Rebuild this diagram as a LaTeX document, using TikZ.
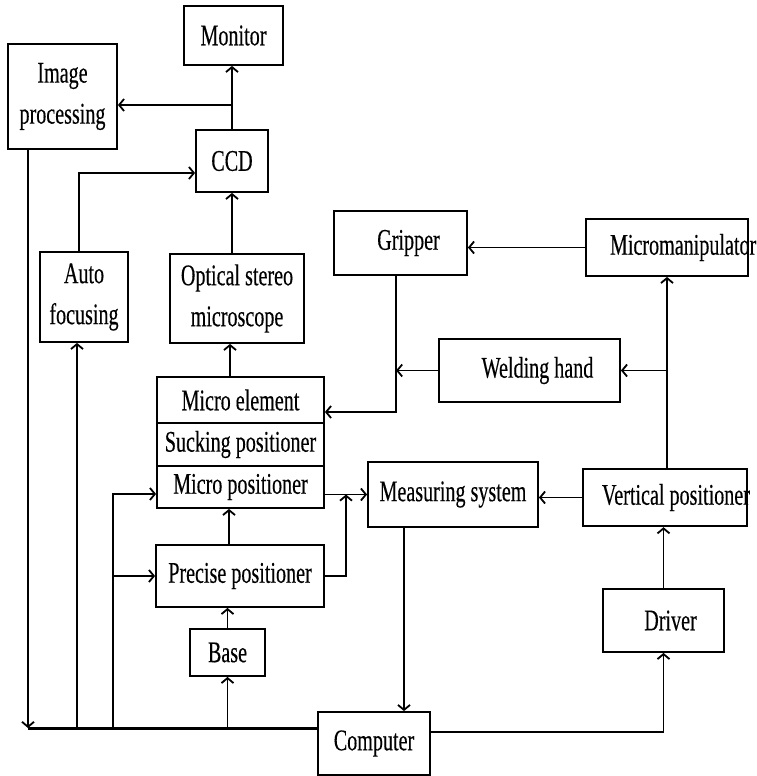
\documentclass[tikz,border=0pt]{standalone}
\usepackage{fontspec}
\setmainfont[FakeStretch=0.67, FakeBold=0.3]{Liberation Serif}
\usetikzlibrary{arrows.meta}

\begin{document}
\begin{tikzpicture}[x=1pt, y=-1pt, line width=1.8pt,
    >={Straight Barb[length=5pt,width=12pt]},
    blk/.style={draw, inner sep=0pt, align=center,
        font=\fontsize{30}{41}\selectfont},
    clipped/.style={align=left, text width=#1},
    bus/.style={line width=3pt}]
    \useasboundingbox (0,0) rectangle (756,776);

    \node[blk, minimum width=99, minimum height=59] (monitor) at (233.5,35.5) {Monitor};
    \node[blk, minimum width=109, minimum height=105] (imgproc) at (62.5,96.5) {Image\\processing};
    \node[blk, minimum width=72, minimum height=62] (ccd) at (232,161) {CCD};
    \node[blk, minimum width=88, minimum height=90] (autofoc) at (84,297) {Auto\\focusing};
    \node[blk, minimum width=134, minimum height=89] (optical) at (237,298.5) {Optical stereo\\microscope};
    \node[blk, minimum width=133, minimum height=64] (gripper) at (400.5,243) {\hspace*{16pt}Gripper};
    \node[blk, clipped=114pt, inner xsep=24pt, minimum height=57] (microman) at (667,247.5) {\mbox{Micromanipulator}};
    \node[blk, minimum width=181, minimum height=63] (welding) at (529.5,370.5) {\hspace*{16pt}Welding hand};
    \node[blk, minimum width=167, minimum height=46] (microel) at (240.5,400) {Micro element};
    \node[blk, minimum width=167, minimum height=43] (sucking) at (240.5,444.5) {Sucking positioner};
    \node[blk, minimum width=167, minimum height=42] (micropos) at (240.5,487) {Micro positioner};
    \node[blk, minimum width=170, minimum height=65] (measuring) at (453,494.5) {Measuring system};
    \node[blk, clipped=126pt, inner xsep=19pt, minimum height=57, line width=2.4pt] (vertical) at (665,497.5) {\spaceskip=0pt\mbox{Vertical positioner}};
    \node[blk, minimum width=168, minimum height=62] (precise) at (240,576) {Precise positioner};
    \node[blk, minimum width=75, minimum height=47] (base) at (227.5,652.5) {Base};
    \node[blk, minimum width=121, minimum height=63] (driver) at (663.5,620.5) {\hspace*{14pt}Driver};
    \node[blk, minimum width=112, minimum height=63] (computer) at (374,743.5) {Computer};

    \coordinate (busL) at (28,728);
    \coordinate (tap) at (113,728);
    \coordinate (join) at (346,494.5);

    % optics
    \draw[->] (ccd.north) -- (ccd.north |- monitor.south);
    \draw[->] (ccd.north |- 0,105) -- (imgproc.east |- 0,105);
    \draw[->] (ccd.south |- optical.north) -- (ccd.south);
    \draw[->] (microel.north -| 230,0) -- (optical.south -| 230,0);
    \draw[->] (autofoc.north -| 79,0) |- (ccd.west |- 0,173);

    % handling
    \draw[->] (microman.west) -- (gripper.east |- microman.west);
    \draw[->] (gripper.south -| 396,0) |- (microel.east |- 0,412);
    \draw[->] (welding.west) -- (welding.west -| 396,0);
    \draw[->] (microman.south |- vertical.north) -- (microman.south);
    \draw[->] (microman.south |- welding.east) -- (welding.east);
    \draw[->] (vertical.west) -- (measuring.east |- vertical.west);
    \draw[->] (micropos.east |- measuring.west) -- (measuring.west);
    \draw[->] (precise.east) -| (join);
    \draw[->] (precise.north -| 229,0) -- (micropos.south -| 229,0);
    \draw[->] (base.north) -- (base.north |- precise.south);

    % computer and bus
    \draw[->] (busL |- imgproc.south) -- (busL);
    \draw[bus] (busL) -- (computer.west |- busL);
    \draw[->] (busL -| 77,0) -- (autofoc.south -| 77,0);
    \draw[->] (base.south |- busL) -- (base.south);
    \draw[->] (tap) |- ([yshift=-7pt]micropos.west);
    \draw[->] (tap |- precise.west) -- (precise.west);
    \draw[->] (measuring.south -| 404,0) -- (computer.north -| 404,0);
    \draw[->] ([yshift=11.5pt]computer.east) -| (driver.south);
    \draw[->] (driver.north) -- (driver.north |- vertical.south);

\end{tikzpicture}
\end{document}
